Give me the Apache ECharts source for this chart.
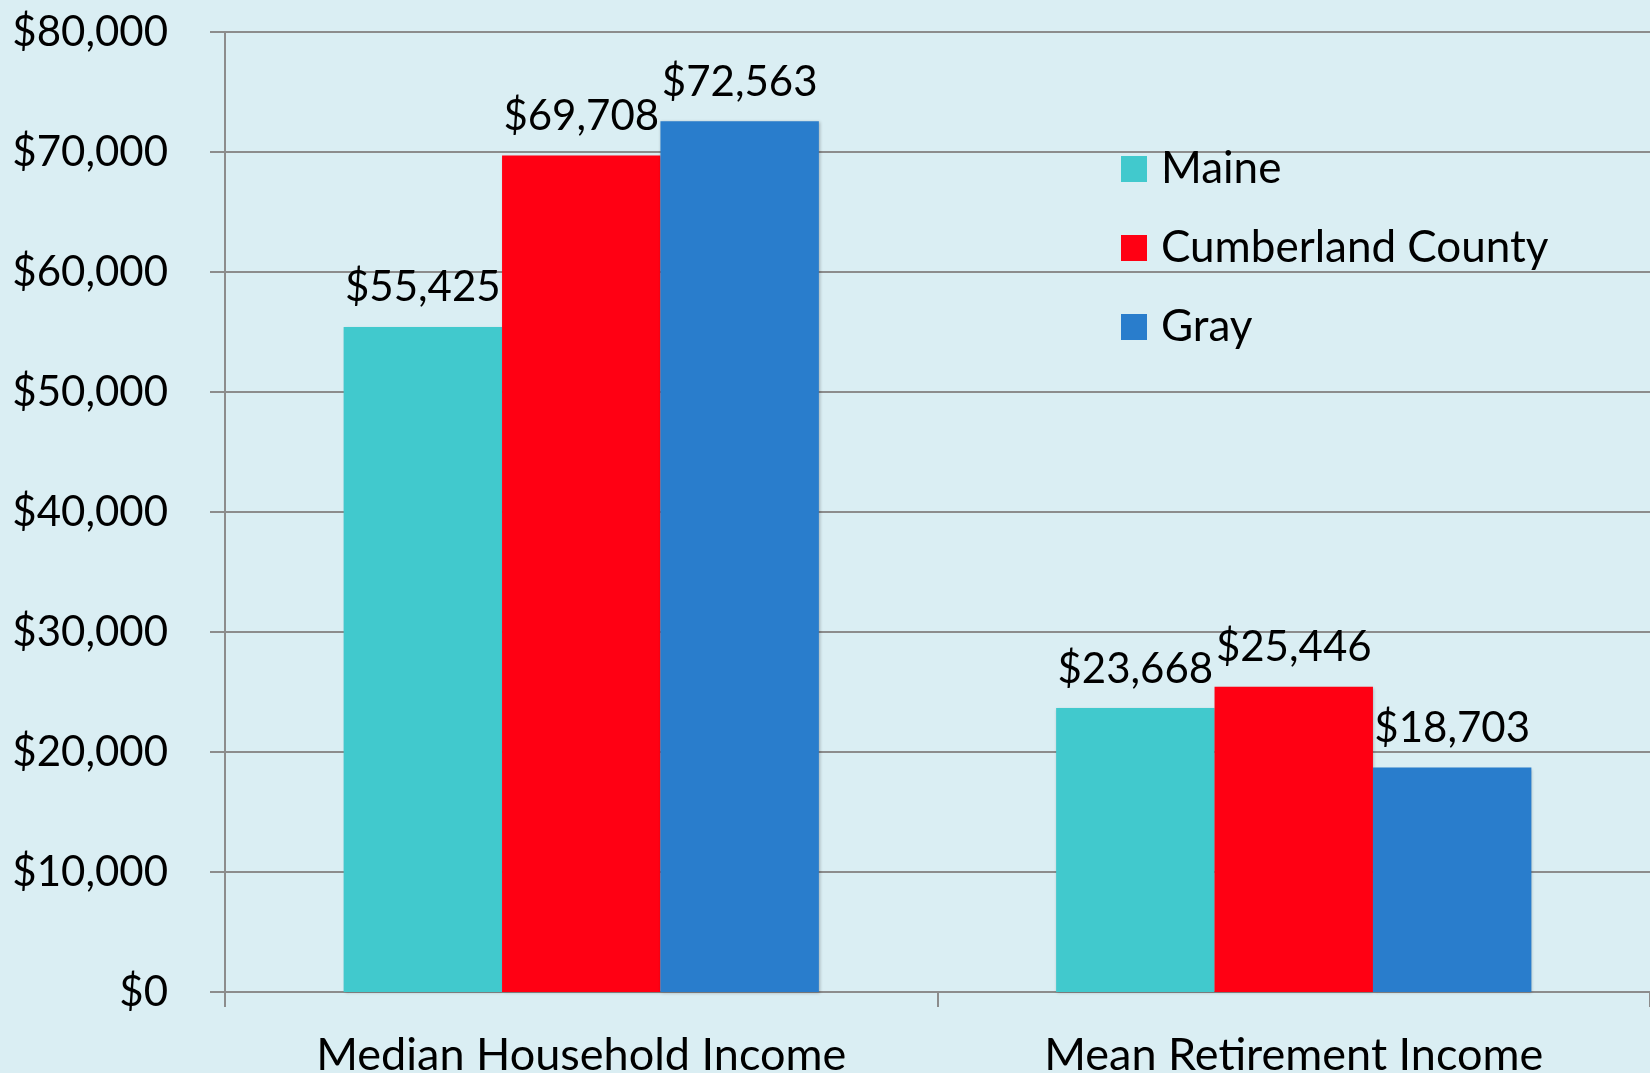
<!DOCTYPE html>
<html>
<head>
<meta charset="utf-8">
<script src="https://cdn.jsdelivr.net/npm/echarts@6/dist/echarts.min.js"></script>
<style>
  html, body {margin: 0; padding: 0; background: #DAEEF3;}
</style>
</head>
<body>
<div id="chart" style="width: 1650px; height: 1073px;"></div>
<script>
const categories = ['Median Household Income', 'Mean Retirement Income']
const maine = [55425, 23668]
const cumberland = [69708, 25446]
const gray = [72563, 18703]

const fontFamily = 'Lato'
const money = v => '$' + Number(v).toLocaleString('en-US')

let myChart = echarts.init(document.getElementById('chart'))

// label on top of every bar
const barLabel = {
  show: true,
  position: 'top',
  distance: 18,
  color: '#000',
  fontFamily: fontFamily,
  fontSize: 42,
  formatter: p => money(p.value)
}

let option = {
  backgroundColor: '#DAEEF3',
  textStyle: {fontFamily: fontFamily},
  grid: {left: 225, right: 0, top: 32, bottom: 81, containLabel: false, outerBoundsMode: 'none'},
  legend: {
    orient: 'vertical',
    left: 1121,
    top: 147,
    padding: 0,
    icon: 'rect',
    itemWidth: 26,
    itemHeight: 26,
    itemGap: 35,
    textStyle: {fontSize: 44, color: '#000', fontFamily: fontFamily, padding: [0, 0, 0, 9]},
    data: ['Maine', 'Cumberland County', 'Gray']
  },
  xAxis: {
    type: 'category',
    data: categories,
    axisLine: {lineStyle: {color: '#8C8C8C', width: 2}},
    axisTick: {show: true, length: 15, lineStyle: {color: '#8C8C8C', width: 2}},
    axisLabel: {color: '#000', fontSize: 45, fontFamily: fontFamily, margin: 41}
  },
  yAxis: {
    type: 'value',
    min: 0,
    max: 80000,
    interval: 10000,
    axisLine: {show: true, lineStyle: {color: '#8C8C8C', width: 2}},
    axisTick: {show: true, length: 15, lineStyle: {color: '#8C8C8C', width: 2}},
    splitLine: {lineStyle: {color: '#8C8C8C', width: 2}},
    axisLabel: {color: '#000', fontSize: 42, fontFamily: fontFamily, margin: 57, formatter: money}
  },
  series: [
    {
      name: 'Maine',
      type: 'bar',
      barGap: '0%',
      barCategoryGap: '33.3%',
      itemStyle: {color: '#41C9CD', shadowColor: 'rgba(0,0,0,0.25)', shadowBlur: 3, shadowOffsetX: 1, shadowOffsetY: 1},
      label: barLabel,
      data: maine
    },
    {
      name: 'Cumberland County',
      type: 'bar',
      itemStyle: {color: '#FF0013', shadowColor: 'rgba(0,0,0,0.25)', shadowBlur: 3, shadowOffsetX: 1, shadowOffsetY: 1},
      label: barLabel,
      data: cumberland
    },
    {
      name: 'Gray',
      type: 'bar',
      itemStyle: {color: '#297DCC', shadowColor: 'rgba(0,0,0,0.25)', shadowBlur: 3, shadowOffsetX: 1, shadowOffsetY: 1},
      label: barLabel,
      data: gray
    }
  ]
}

myChart.setOption(option)
</script>
</body>
</html>
